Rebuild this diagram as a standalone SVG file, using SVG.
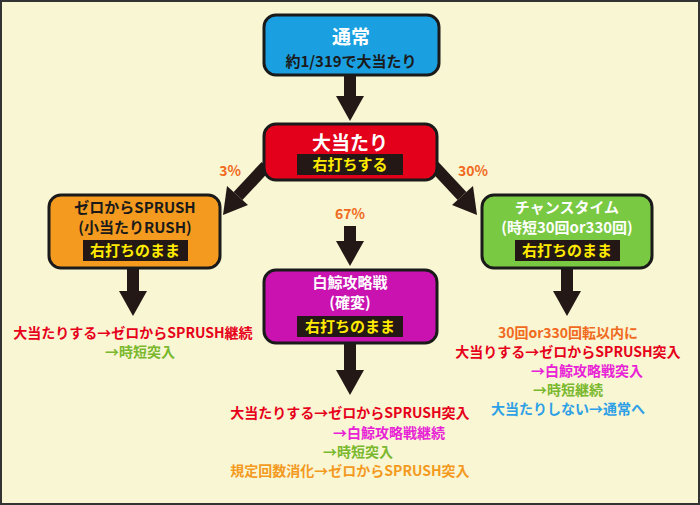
<svg xmlns="http://www.w3.org/2000/svg" width="700" height="505" viewBox="0 0 700 505">
<style>
text{font-family:"Noto Sans CJK JP","Noto Sans",sans-serif;font-weight:bold;text-anchor:middle}
.box{stroke:#1a1a1a;stroke-width:3}
.lab{fill:#231815}
.lt{font-size:15px;fill:#ffea00}
.s{font-size:14px}
.pc{font-size:14px;fill:#f06a20}
.ar{stroke:#231815;stroke-width:12;fill:none}
.hd{fill:#231815}
</style>
<rect x="1" y="1" width="698" height="503" fill="#f9f6d3" stroke="#333" stroke-width="2"/>
<g id="connectors">
<line class="ar" x1="350" y1="75" x2="350" y2="98"/><polygon class="hd" points="336,96 364,96 350,121"/>
<line class="ar" x1="350" y1="226" x2="350" y2="243"/><polygon class="hd" points="336,241 364,241 350,266"/>
<line class="ar" x1="133" y1="268" x2="133" y2="293"/><polygon class="hd" points="119,291 147,291 133,316"/>
<line class="ar" x1="567" y1="268" x2="567" y2="293"/><polygon class="hd" points="553,291 581,291 567,316"/>
<line class="ar" x1="350" y1="343" x2="350" y2="372"/><polygon class="hd" points="336,370 364,370 350,395"/>
<line class="ar" x1="266" y1="166" x2="238" y2="196"/><polygon class="hd" points="227,186 248,205 223,215"/>
<line class="ar" x1="434" y1="166" x2="462" y2="196"/><polygon class="hd" points="452,205 473,186 477,215"/>
<text class="pc" x="230" y="176">3%</text>
<text class="pc" x="350" y="219">67%</text>
<text class="pc" x="473" y="176">30%</text>
</g>
<g id="n-normal"><rect class="box" x="264" y="15" width="175" height="60" rx="12" fill="#1a9fe0"/>
<text x="351" y="44" fill="#fff" font-size="19">通常</text>
<text x="351" y="67" fill="#1a1a1a" font-size="15">約1/319で大当たり</text></g>
<g id="n-hit"><rect class="box" x="264" y="124" width="173" height="56" rx="12" fill="#e3001a"/>
<text x="350" y="150" fill="#fff" font-size="19">大当たり</text>
<rect class="lab" x="297" y="154" width="106" height="21"/><text class="lt" x="350" y="170">右打ちする</text></g>
<g id="n-zero"><rect class="box" x="49" y="195" width="171" height="73" rx="12" fill="#f39a1f"/>
<text x="135" y="213" fill="#1a1a1a" font-size="15">ゼロからSPRUSH</text>
<text x="135" y="233" fill="#1a1a1a" font-size="15">(小当たりRUSH)</text>
<rect class="lab" x="83" y="240" width="105" height="21"/><text class="lt" x="135" y="256">右打ちのまま</text></g>
<g id="n-whale"><rect class="box" x="264" y="270" width="173" height="73" rx="12" fill="#c912b0"/>
<text x="350" y="288" fill="#fff" font-size="15">白鯨攻略戦</text>
<text x="350" y="308" fill="#fff" font-size="15">(確変)</text>
<rect class="lab" x="297" y="316" width="106" height="21"/><text class="lt" x="350" y="332">右打ちのまま</text></g>
<g id="n-chance"><rect class="box" x="482" y="195" width="170" height="73" rx="12" fill="#7ac943"/>
<text x="567" y="213" fill="#fff" font-size="15">チャンスタイム</text>
<text x="567" y="233" fill="#fff" font-size="15">(時短30回or330回)</text>
<rect class="lab" x="515" y="240" width="105" height="21"/><text class="lt" x="567" y="256">右打ちのまま</text></g>
<g id="outcomes" class="s">
<text x="133" y="338" fill="#e6001a">大当たりする→ゼロからSPRUSH継続</text>
<text x="140" y="357" fill="#7ab82e">→時短突入</text>
<text x="350" y="418" fill="#e6001a">大当たりする→ゼロからSPRUSH突入</text>
<text x="389" y="438" fill="#e822d6">→白鯨攻略戦継続</text>
<text x="358" y="457" fill="#7ab82e">→時短突入</text>
<text x="350" y="476" fill="#f39a1f">規定回数消化→ゼロからSPRUSH突入</text>
<text x="568" y="338" fill="#f06a20">30回or330回転以内に</text>
<text x="568" y="357" fill="#e6001a">大当りする→ゼロからSPRUSH突入</text>
<text x="587" y="376" fill="#e822d6">→白鯨攻略戦突入</text>
<text x="568" y="395" fill="#7ab82e">→時短継続</text>
<text x="568" y="414" fill="#2ea0e6">大当たりしない→通常へ</text>
</g>
</svg>
